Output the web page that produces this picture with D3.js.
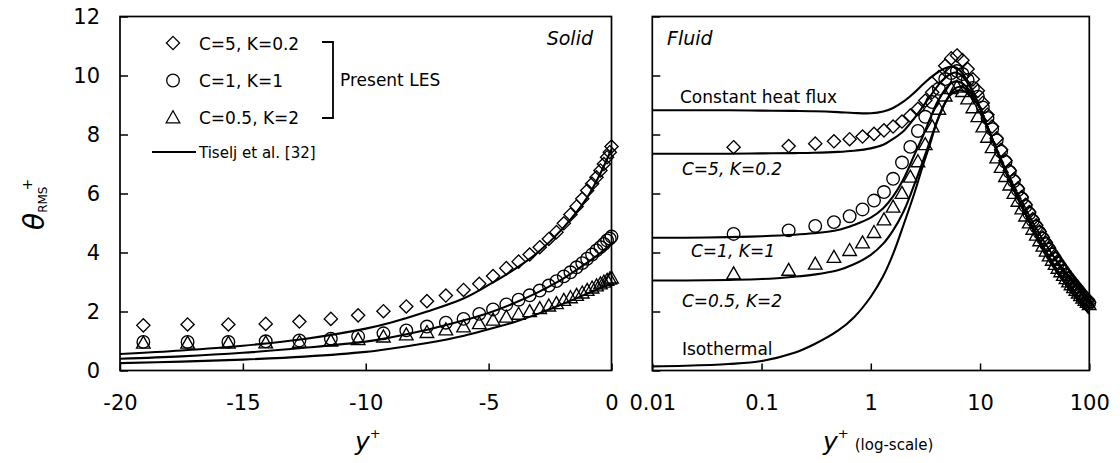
<!DOCTYPE html>
<html><head><meta charset="utf-8">
<script src="https://cdn.jsdelivr.net/npm/d3@7"></script>
<style>
body{margin:0;background:#fff}
svg{display:block}
text{font-family:"DejaVu Sans",sans-serif;fill:#000}
</style>
</head><body>
<svg id="c" width="1120" height="463"></svg>
<script>
// ---------- DATA ----------
const yTicks = [0, 2, 4, 6, 8, 10, 12];
const solidTicks = [-20, -15, -10, -5, 0];
const fluidTicks = [0.01, 0.1, 1, 10, 100];
const fluidTickLabels = ["0.01", "0.1", "1", "10", "100"];

// Solid (left) LES markers
const solidYp = [-19.05,-17.25,-15.59,-14.07,-12.7,-11.42,-10.31,-9.28,-8.35,-7.51,-6.74,-6.02,-5.38,-4.82,-4.28,-3.78,-3.33,-2.92,-2.55,-2.24,-1.94,-1.67,-1.42,-1.19,-0.99,-0.79,-0.61,-0.45,-0.31,-0.18,-0.07,0];
const solidC5 = [1.53,1.56,1.56,1.58,1.66,1.75,1.87,2.01,2.17,2.35,2.54,2.73,2.94,3.2,3.47,3.69,3.93,4.18,4.46,4.69,4.99,5.29,5.56,5.82,6.1,6.33,6.55,6.78,7.0,7.23,7.4,7.59];
const solidC1 = [0.97,0.97,0.97,0.99,1.02,1.08,1.15,1.26,1.36,1.49,1.62,1.75,1.92,2.07,2.24,2.4,2.55,2.71,2.88,3.03,3.19,3.33,3.5,3.64,3.79,3.93,4.07,4.18,4.29,4.41,4.47,4.54];
const solidC05 = [0.92,0.92,0.92,0.93,0.95,0.99,1.04,1.13,1.2,1.28,1.37,1.47,1.58,1.7,1.8,1.9,1.99,2.09,2.18,2.26,2.37,2.46,2.54,2.62,2.71,2.79,2.86,2.93,2.99,3.05,3.09,3.13];

// Solid (left) Tiselj et al. lines
const solidLineYp = [-20,-17.5,-15,-12.5,-10,-9,-7.5,-6,-5,-4,-3,-2,-1,-0.5,0];
const solidLineC5 = [0.56,0.68,0.84,1.07,1.42,1.62,2.0,2.45,2.9,3.4,4.0,4.8,5.85,6.6,7.5];
const solidLineC1 = [0.4,0.48,0.6,0.77,0.98,1.12,1.38,1.7,1.95,2.27,2.65,3.1,3.65,3.95,4.3];
const solidLineC05 = [0.25,0.3,0.37,0.47,0.63,0.74,0.93,1.18,1.4,1.63,1.92,2.25,2.6,2.78,2.95];

// Fluid (right) LES markers
const fluidYp = [0.0555,0.177,0.31,0.46,0.64,0.84,1.07,1.32,1.6,1.93,2.3,2.7,3.15,3.65,4.2,4.8,5.45,6.15,6.9,7.7,8.6,9.55,10.6,11.7,12.9,14.2,15.6,17.1,18.7,20.4,22.2,24.1,26.1,28.2,30.4,32.7,35.1,37.6,40.2,42.9,45.7,48.6,51.6,54.7,57.9,61.2,64.6,68.1,71.7,75.4,79.2,83.1,87.1,91.2,95.4,99.7];
const fluidC5 = [7.57,7.61,7.69,7.77,7.84,7.93,8.02,8.14,8.27,8.44,8.64,8.87,9.15,9.43,9.95,10.33,10.58,10.68,10.52,10.22,9.87,9.48,9.07,8.67,8.27,7.87,7.48,7.12,6.78,6.47,6.17,5.88,5.62,5.37,5.13,4.92,4.71,4.51,4.32,4.14,3.97,3.81,3.66,3.52,3.39,3.26,3.14,3.03,2.93,2.83,2.73,2.63,2.54,2.46,2.38,2.31];
const fluidC1 = [4.63,4.75,4.9,5.03,5.23,5.46,5.76,6.05,6.5,7.05,7.58,8.12,8.6,9.1,9.55,9.88,10.08,10.15,10.05,9.85,9.58,9.28,8.92,8.56,8.18,7.8,7.42,7.07,6.73,6.42,6.12,5.83,5.57,5.32,5.08,4.87,4.67,4.47,4.28,4.1,3.93,3.78,3.63,3.49,3.36,3.24,3.12,3.01,2.91,2.81,2.71,2.61,2.52,2.44,2.36,2.29];
const fluidC05 = [3.27,3.39,3.6,3.83,4.06,4.32,4.67,5.1,5.53,6.0,6.55,7.07,7.65,8.25,8.85,9.3,9.55,9.6,9.45,9.2,8.9,8.6,8.25,7.9,7.55,7.2,6.88,6.57,6.28,6.0,5.73,5.47,5.23,5.0,4.78,4.58,4.39,4.21,4.04,3.88,3.73,3.59,3.46,3.34,3.22,3.11,3.0,2.9,2.8,2.71,2.62,2.53,2.45,2.37,2.3,2.23];

// Fluid (right) Tiselj et al. lines
const fluidLineYp = [0.01,0.02,0.05,0.1,0.2,0.3,0.5,0.7,1,1.3,1.6,2,2.5,3,3.5,4,4.5,5,5.5,6,6.5,7,8,9,10,12,15,20,25,30,40,50,60,70,85,100];
const fluidLineCHF = [8.82,8.82,8.82,8.81,8.8,8.79,8.76,8.73,8.72,8.78,8.9,9.12,9.42,9.7,9.92,10.08,10.2,10.27,10.3,10.27,10.18,10.05,9.7,9.3,8.9,8.15,7.25,6.2,5.45,4.85,3.98,3.4,2.97,2.62,2.24,1.93];
const fluidLineC5 = [7.35,7.35,7.35,7.36,7.37,7.38,7.41,7.45,7.53,7.65,7.85,8.12,8.55,8.95,9.3,9.6,9.82,9.98,10.07,10.1,10.05,9.95,9.65,9.28,8.9,8.15,7.25,6.2,5.45,4.85,3.98,3.4,2.97,2.62,2.24,1.93];
const fluidLineC1 = [4.5,4.5,4.52,4.55,4.6,4.65,4.76,4.93,5.18,5.5,5.9,6.5,7.3,7.95,8.55,9.05,9.38,9.6,9.75,9.8,9.78,9.72,9.5,9.22,8.9,8.15,7.25,6.2,5.45,4.85,3.98,3.4,2.97,2.62,2.24,1.93];
const fluidLineC05 = [3.05,3.05,3.07,3.1,3.18,3.25,3.4,3.6,3.92,4.3,4.75,5.4,6.3,7.1,7.8,8.4,8.85,9.2,9.45,9.58,9.62,9.6,9.45,9.2,8.9,8.15,7.25,6.2,5.45,4.85,3.98,3.4,2.97,2.62,2.24,1.93];
const fluidLineIso = [0.14,0.16,0.22,0.32,0.6,0.88,1.35,1.8,2.5,3.2,3.95,4.95,6.0,6.95,7.7,8.4,8.88,9.2,9.38,9.47,9.5,9.48,9.35,9.15,8.88,8.15,7.25,6.2,5.45,4.85,3.98,3.4,2.97,2.62,2.24,1.93];

const legendLabels = ["C=5, K=0.2", "C=1, K=1", "C=0.5, K=2"];

// ---------- DRAWING ----------
const svg = d3.select("#c");
const plotTop = 16.5, plotBottom = 370.5;
const y = d3.scaleLinear().domain([0, 12]).range([plotBottom, plotTop]);
const xL = d3.scaleLinear().domain([-20, 0]).range([120, 611.5]);
const xR = d3.scaleLog().domain([0.01, 100]).range([652.3, 1089.3]);

const shapes = {
  diamond: "M0,-6.6L6.6,0L0,6.6L-6.6,0Z",
  circle: "M6.3,0A6.3,6.3 0 1,1 -6.3,0A6.3,6.3 0 1,1 6.3,0Z",
  triangle: "M0,-7.2L6.8,4.8L-6.8,4.8Z"
};

function axes(x, ticks, labels, showY) {
  const gx = svg.append("g").attr("transform", `translate(0,${plotBottom})`)
    .call(d3.axisBottom(x).tickValues(ticks).tickSizeInner(-7).tickSizeOuter(0).tickPadding(25)
      .tickFormat((d, i) => labels ? labels[i] : String(d)));
  gx.select(".domain").remove();
  gx.selectAll("line").attr("stroke", "#000").attr("stroke-width", 1.5);
  gx.selectAll("text").attr("font-size", 21).attr("font-family", "DejaVu Sans").attr("fill", "#000");
  const x0 = x.range()[0];
  const gy = svg.append("g").attr("transform", `translate(${x0},0)`)
    .call(d3.axisLeft(y).tickValues(yTicks).tickSizeInner(-8).tickSizeOuter(0).tickPadding(20)
      .tickFormat(d => showY ? String(d) : ""));
  gy.select(".domain").remove();
  gy.selectAll("line").attr("stroke", "#000").attr("stroke-width", 1.5);
  gy.selectAll("text").attr("font-size", 21).attr("font-family", "DejaVu Sans").attr("fill", "#000");
  const [a, b] = x.range();
  svg.append("rect").attr("x", a).attr("y", plotTop).attr("width", b - a).attr("height", plotBottom - plotTop)
    .attr("fill", "none").attr("stroke", "#000").attr("stroke-width", 1.7);
}

axes(xL, solidTicks, null, true);
axes(xR, fluidTicks, fluidTickLabels, false);

function drawLine(x, xs, ys) {
  const line = d3.line().x(d => x(d[0])).y(d => y(d[1])).curve(d3.curveCatmullRom.alpha(0.5));
  svg.append("path").datum(xs.map((v, i) => [v, ys[i]])).attr("d", line)
    .attr("fill", "none").attr("stroke", "#000").attr("stroke-width", 2.1);
}
function drawMarkers(x, xs, ys, shape) {
  svg.append("g").selectAll("path").data(xs.map((v, i) => [v, ys[i]])).join("path")
    .attr("transform", d => `translate(${x(d[0])},${y(d[1])})`)
    .attr("d", shapes[shape]).attr("fill", "none").attr("stroke", "#000").attr("stroke-width", 1.35);
}

// left panel
drawLine(xL, solidLineYp, solidLineC5);
drawLine(xL, solidLineYp, solidLineC1);
drawLine(xL, solidLineYp, solidLineC05);
drawMarkers(xL, solidYp, solidC5, "diamond");
drawMarkers(xL, solidYp, solidC1, "circle");
drawMarkers(xL, solidYp, solidC05, "triangle");

// right panel
[fluidLineCHF, fluidLineC5, fluidLineC1, fluidLineC05, fluidLineIso].forEach(s => drawLine(xR, fluidLineYp, s));
drawMarkers(xR, fluidYp, fluidC5, "diamond");
drawMarkers(xR, fluidYp, fluidC1, "circle");
drawMarkers(xR, fluidYp, fluidC05, "triangle");

// legend
const legShapes = ["diamond", "circle", "triangle"];
const legY = [43, 80.5, 118];
const legBase = [50, 87, 124];
legShapes.forEach((s, i) => {
  svg.append("path").attr("transform", `translate(173,${legY[i]})`).attr("d", shapes[s])
    .attr("fill", "none").attr("stroke", "#000").attr("stroke-width", 1.3);
  svg.append("text").attr("x", 199).attr("y", legBase[i]).attr("font-size", 17).text(legendLabels[i]);
});
svg.append("path").attr("d", "M322,42H333V118H322").attr("fill", "none").attr("stroke", "#000").attr("stroke-width", 1.8);
svg.append("text").attr("x", 340).attr("y", 86).attr("font-size", 17).text("Present LES");
svg.append("line").attr("x1", 152).attr("x2", 196).attr("y1", 152).attr("y2", 152).attr("stroke", "#000").attr("stroke-width", 2);
svg.append("text").attr("x", 199).attr("y", 158).attr("font-size", 15).text("Tiselj et al. [32]");

// panel titles
svg.append("text").attr("x", 593).attr("y", 45).attr("text-anchor", "end").attr("font-size", 19).attr("font-style", "italic").text("Solid");
svg.append("text").attr("x", 667).attr("y", 45).attr("font-size", 19).attr("font-style", "italic").text("Fluid");

// right annotations
svg.append("text").attr("x", 680).attr("y", 103).attr("font-size", 17).text("Constant heat flux");
svg.append("text").attr("x", 682).attr("y", 175).attr("font-size", 17).attr("font-style", "italic").text("C=5, K=0.2");
svg.append("text").attr("x", 691).attr("y", 257).attr("font-size", 17).attr("font-style", "italic").text("C=1, K=1");
svg.append("text").attr("x", 682).attr("y", 307).attr("font-size", 17).attr("font-style", "italic").text("C=0.5, K=2");
svg.append("text").attr("x", 682).attr("y", 355).attr("font-size", 17).text("Isothermal");

// axis titles
const xl1 = svg.append("text").attr("x", 355).attr("y", 450);
xl1.append("tspan").attr("font-size", 25).attr("font-style", "italic").text("y");
xl1.append("tspan").attr("font-size", 13).attr("dy", -12).text("+");

const xl2 = svg.append("text").attr("x", 823).attr("y", 450);
xl2.append("tspan").attr("font-size", 25).attr("font-style", "italic").text("y");
xl2.append("tspan").attr("font-size", 13).attr("dy", -12).text("+");
xl2.append("tspan").attr("font-size", 15).attr("dy", 12).attr("dx", 6).text("(log-scale)");

const yl = svg.append("text").attr("transform", "translate(44,230) rotate(-90)");
yl.append("tspan").attr("font-size", 28).attr("font-style", "italic").text("θ");
yl.append("tspan").attr("font-size", 12).attr("dy", 3).text("RMS");
yl.append("tspan").attr("font-size", 14).attr("dy", -15).attr("dx", -4).text("+");
</script>
</body></html>
